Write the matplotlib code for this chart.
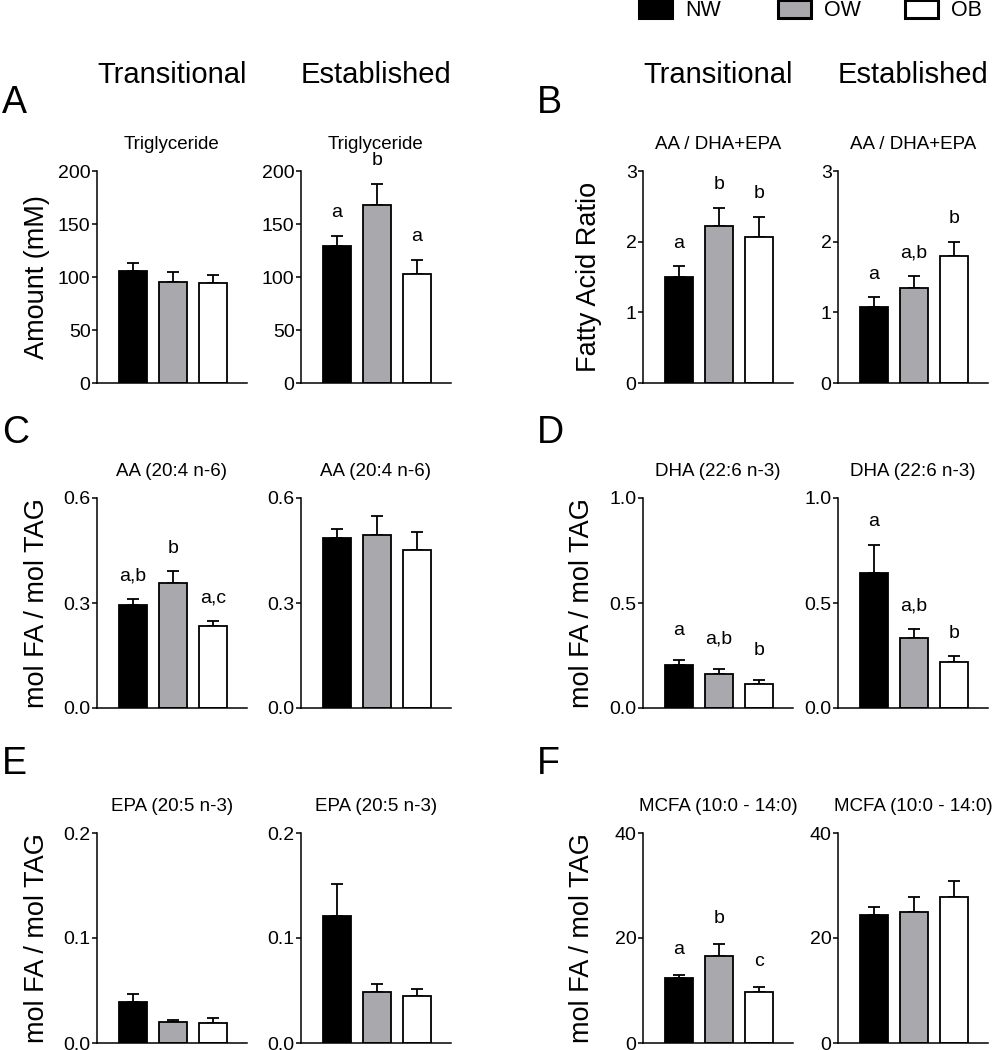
import matplotlib
matplotlib.use('Agg')
import matplotlib.pyplot as plt
from matplotlib.patches import Patch
from matplotlib.ticker import FormatStrFormatter

plt.rcParams['font.family'] = ['Liberation Sans', 'DejaVu Sans']

# groups
groups = ['NW', 'OW', 'OB']
bar_colors = ['black', '#a9a9ad', 'white']

# Triglyceride (mM)
tg_trans = [105.5, 95, 94]
tg_trans_err = [7.3, 10, 8]
tg_est = [129, 167.5, 103.3]
tg_est_err = [10, 20.5, 12.7]

# AA / DHA+EPA ratio
ratio_trans = [1.50, 2.22, 2.07]
ratio_trans_err = [0.15, 0.26, 0.28]
ratio_est = [1.08, 1.34, 1.80]
ratio_est_err = [0.13, 0.17, 0.20]

# AA (20:4 n-6)
aa_trans = [0.294, 0.358, 0.234]
aa_trans_err = [0.017, 0.033, 0.015]
aa_est = [0.485, 0.493, 0.451]
aa_est_err = [0.027, 0.055, 0.053]

# DHA (22:6 n-3)
dha_trans = [0.206, 0.164, 0.113]
dha_trans_err = [0.022, 0.024, 0.019]
dha_est = [0.641, 0.335, 0.219]
dha_est_err = [0.136, 0.041, 0.028]

# EPA (20:5 n-3)
epa_trans = [0.039, 0.0197, 0.019]
epa_trans_err = [0.008, 0.0023, 0.0045]
epa_est = [0.121, 0.049, 0.0445]
epa_est_err = [0.030, 0.007, 0.0065]

# MCFA (10:0 - 14:0)
mcfa_trans = [12.3, 16.6, 9.8]
mcfa_trans_err = [0.65, 2.3, 0.9]
mcfa_est = [24.4, 24.95, 27.9]
mcfa_est_err = [1.5, 2.95, 3.0]

# significance letters
tg_est_sig = ['a', 'b', 'a']
ratio_trans_sig = ['a', 'b', 'b']
ratio_est_sig = ['a', 'a,b', 'b']
aa_trans_sig = ['a,b', 'b', 'a,c']
dha_trans_sig = ['a', 'a,b', 'b']
dha_est_sig = ['a', 'a,b', 'b']
mcfa_trans_sig = ['a', 'b', 'c']

#---------------------------
# PLOTTING
#---------------------------
W, H = 1003, 1050
fig = plt.figure(figsize=(W / 100, H / 100), dpi=100)

col_x = [97, 301, 643, 838]
rows = [(171, 383), (498, 708), (833, 1043)]
ax_w = 150

# (col, row, values, errors, letters, ymax, ticks, fmt, title, ylabel, label_x, letter_off)
panels = [
    (0, 0, tg_trans, tg_trans_err, None, 200, [0, 50, 100, 150, 200], '%d', 'Triglyceride', 'Amount (mM)', -0.31, 0.11),
    (1, 0, tg_est, tg_est_err, tg_est_sig, 200, [0, 50, 100, 150, 200], '%d', 'Triglyceride', None, 0, 0.11),
    (2, 0, ratio_trans, ratio_trans_err, ratio_trans_sig, 3, [0, 1, 2, 3], '%d', 'AA / DHA+EPA', 'Fatty Acid Ratio', -0.27, 0.11),
    (3, 0, ratio_est, ratio_est_err, ratio_est_sig, 3, [0, 1, 2, 3], '%d', 'AA / DHA+EPA', None, 0, 0.11),
    (0, 1, aa_trans, aa_trans_err, aa_trans_sig, 0.6, [0, 0.3, 0.6], '%.1f', 'AA (20:4 n-6)', 'mol FA / mol TAG', -0.31, 0.11),
    (1, 1, aa_est, aa_est_err, None, 0.6, [0, 0.3, 0.6], '%.1f', 'AA (20:4 n-6)', None, 0, 0.11),
    (2, 1, dha_trans, dha_trans_err, dha_trans_sig, 1.0, [0, 0.5, 1.0], '%.1f', 'DHA (22:6 n-3)', 'mol FA / mol TAG', -0.32, 0.14),
    (3, 1, dha_est, dha_est_err, dha_est_sig, 1.0, [0, 0.5, 1.0], '%.1f', 'DHA (22:6 n-3)', None, 0, 0.11),
    (0, 2, epa_trans, epa_trans_err, None, 0.2, [0, 0.1, 0.2], '%.1f', 'EPA (20:5 n-3)', 'mol FA / mol TAG', -0.31, 0.11),
    (1, 2, epa_est, epa_est_err, None, 0.2, [0, 0.1, 0.2], '%.1f', 'EPA (20:5 n-3)', None, 0, 0.11),
    (2, 2, mcfa_trans, mcfa_trans_err, mcfa_trans_sig, 40, [0, 20, 40], '%d', 'MCFA (10:0 - 14:0)', 'mol FA / mol TAG', -0.32, 0.12),
    (3, 2, mcfa_est, mcfa_est_err, None, 40, [0, 20, 40], '%d', 'MCFA (10:0 - 14:0)', None, 0, 0.11),
]

xpos = list(range(len(groups)))

for col, row, vals, errs, sig, ymax, ticks, fmt, title, ylabel, label_x, off in panels:
    top, bottom = rows[row]
    ax = fig.add_axes([col_x[col] / W, 1 - bottom / H, ax_w / W, (bottom - top) / H])
    ax.bar(xpos, vals, width=0.69, color=bar_colors, edgecolor='black', linewidth=1.3, zorder=2)
    ax.errorbar(xpos, vals, yerr=[[0] * len(vals), errs], fmt='none', ecolor='black',
                elinewidth=1.3, capsize=4.3, capthick=1.3, zorder=1)
    if sig:
        for x, v, e, s in zip(xpos, vals, errs, sig):
            ax.text(x, v + e + off * ymax, s, ha='center', va='center', fontsize=14, clip_on=False)
    ax.set_xlim(-0.9, 2.85)
    ax.set_ylim(0, ymax)
    ax.set_yticks(ticks)
    ax.yaxis.set_major_formatter(FormatStrFormatter(fmt))
    ax.set_xticks([])
    for sp in ['top', 'right']:
        ax.spines[sp].set_visible(False)
    for sp in ['left', 'bottom']:
        ax.spines[sp].set_linewidth(1.1)
    ax.tick_params(axis='y', direction='out', length=3.6, width=1.1, pad=1, labelsize=14)
    ax.set_title(title, fontsize=13.5, pad=16)
    if ylabel:
        ax.set_ylabel(ylabel, fontsize=19.5)
        ax.yaxis.set_label_coords(label_x, 0.5)

# column headers
for cx, txt in zip(col_x, ['Transitional', 'Established', 'Transitional', 'Established']):
    fig.text((cx + ax_w / 2) / W, 1 - 75 / H, txt, ha='center', va='center', fontsize=21)

# panel letters
for lx, ly, lt in [(2, 103, 'A'), (537, 103, 'B'), (2, 433, 'C'), (537, 433, 'D'),
                   (2, 764, 'E'), (537, 764, 'F')]:
    fig.text(lx / W, 1 - ly / H, lt, ha='left', va='center', fontsize=27)

# legend, one entry per anchor so the uneven gaps match
for lx, c, g in zip([639, 778, 905], bar_colors, groups):
    fig.legend([Patch(facecolor=c, edgecolor='black', linewidth=2.2)], [g],
               loc='upper left', bbox_to_anchor=(lx / W, 1.0), frameon=False,
               fontsize=15.5, handlelength=1.55, handleheight=0.9,
               handletextpad=0.6, borderpad=0, borderaxespad=0)

fig.savefig('out.png', dpi=100)
